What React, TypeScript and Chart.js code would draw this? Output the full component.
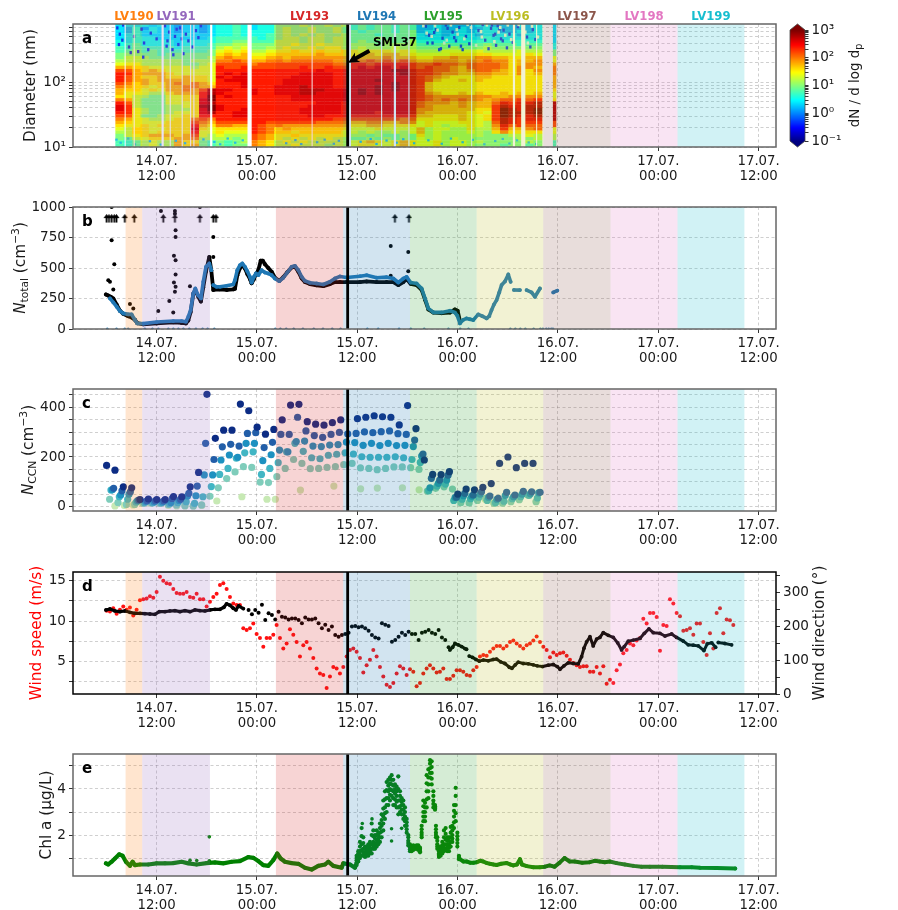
import React, { useEffect, useRef } from "react";
import { Chart, registerables } from "chart.js";

Chart.register(...registerables);
Chart.defaults.font.family = "'DejaVu Sans', sans-serif";

const W = 898;
const X_MIN = 2;
const X_MAX = 86.08;
const GRID = "rgba(128,128,128,0.38)";
const TXT = "#1a1a1a";

const xTickHours = [12, 24, 36, 48, 60, 72, 84];
const xTickDates = ["14.07.", "15.07.", "15.07.", "16.07.", "16.07.", "17.07.", "17.07."];
const xTickTimes = ["12:00", "00:00", "12:00", "00:00", "12:00", "00:00", "12:00"];

const bandNames = ["LV190", "LV191", "LV193", "LV194", "LV195", "LV196", "LV197", "LV198", "LV199"];
const bandStarts = [8.29, 10.28, 26.27, 34.32, 42.3, 50.28, 58.24, 66.3, 74.3];
const bandEnds = [10.28, 18.38, 34.32, 42.3, 50.28, 58.24, 66.3, 74.3, 82.3];
const bandColors = ["#ff7f0e", "#9467bd", "#d62728", "#1f77b4", "#2ca02c", "#bcbd22", "#8c564b", "#e377c2", "#17becf"];
const stationHour = 34.85;

// Panel a: size distribution. One row per 0.05 decade of diameter, top row 10^2.85 nm; one column per hour from heatStart.
// Each character is a base-36 colour level, 0 = 10^-1 ... k = 10^3.
const heatStart = 7.1;
const heatRowTopLog = 2.85;
const heatRowStep = 0.05;
const heatRows = [
  "77 7878 7677 67 8898 788 aaabaabab 9a9aa9a9 667666 67766 6767",
  "76 8687 7677 67 8898 788 abaabaaba 9a9aa9a9 667667 66776 6667",
  "76 8787 7677 67 8898 888 abaabaaba a9aaa9aa 677667 67776 6767",
  "77 8777 7787 77 8898 889 abababaab aaa9aaaa 767677 76777 7677",
  "77 8887 7777 78 9999 989 abbabbabb aaabaaaa 777778 77877 7777",
  "87 8888 8788 88 99aa 999 bbbabbabb abaabaab 888888 88888 8888",
  "88 9888 8788 89 aabb aaa bbcbbcbbb bbbabbbb 999a99 99a99 9899",
  "98 9999 9899 99 bcbc aab bcbbcbccb bcbbbcbb aaaaba aabaa aaaa",
  "99 a9a9 9999 9a cdcd bbc ccdccdccd dcdddcdc bbbccc ccbbb bcbb",
  "aa aaa9 aaaa aa dede ccd dddddeddd ddedeedd ccccdd dddcc ccdc",
  "ab bbaa aaaa ab efee dde edeeeeeee eeeefeee ddeefe effee ddee",
  "bb bbbb bbab bb ffgf eef fefffffee ffgfgfgf eefffe ffgff deef",
  "cc cbbb bbaa bc gggg fgg gggggggff hhghhhhh gghggf ggggf deff",
  "ee ddcc cccb cc hggh ggg ggghgghgg hihiihih ghggfe ggggf dffe",
  "gg eded cccc cc hhhh hhh hhhhhihhh iiiiijji hhggfe fggfe dfdf",
  "hh eeee dccc cc hihi hhh hhhiiiihh iiiiiiji hhgffe effee dfde",
  "hg edde dded dc ihii hhh hhiiiiihh iiiiiiii hgfedd deedd dddd",
  "hg eede eeed dc hiii hhh hiiiiiihh iiijiiii hgedde deddd dddd",
  "gf dedd efef ed hhhi hhh hiiiiiihh iiiiijii hedddd ddddd dddd",
  "fe ddcd eeff ee hhhi hhh iiijiiihh iiijijii hedddd ddddd dddd",
  "ed dcdc eefe gj iihh ihh iiijjjiii ijijijii hedddd ddddd dddd",
  "ec ccbb deee hj ihhh ihh iiijjiiii ijijiiii hfedde dedde dede",
  "dc bbaa ccdd hk hihh hhh hhiiiiiii iiiiiiii hgffff fffee ffff",
  "fe baaa ccdd ik hhhh hhh hhiiiiiii iiiiiiii hgfgfg ffefg ghgh",
  "hg baaa cccd ij hhhh hhh hhhhhiiih iiiiiiii gfffef eeegi hiij",
  "ih baaa bbcd jk ihhh hhh hhhhiiiih iiiiiiii gfeeef eeehj iijj",
  "ih cbaa bbbd ik ihhi hhh hhhiiiiih iiiiiiii ffeeee eddhk jijk",
  "hh cbaa bccd ij hhii hhh hhhiiiiih iiihiiii feeeee ddchk jjjk",
  "gg caab ccdd hh hhii hhh hhhhiihhh hhhhhhhh eeddde dcdhk jiij",
  "fe ccbb cddf gf hhhh hhh hhhhhhhgg ggggggfg ddddde dcdhj ihii",
  "ed cccc dddg fe gggg hhg gggggffff eeffeeff cdcccd dcbgj ihhh",
  "dc cdcd dddh ed ffee hgf feeeeeeee ddeedddd cdcbcc dcbfi ghgg",
  "cb ddcc dddi dc dddd hgf deddddddd cccdcccc ebccbb dbbeh eefg",
  "bb ddcd dddh cc dccc hgf ddcdddddc cbcbbcbc ebcbbb cbadf dddd",
  "ab cdee edeg cb cbbb gfe ccdcccccc bbabaaba dbcbbb bbaaa bbcb",
  "a9 bcdd deef bb bbab gfe cbcbcbcbb aabababa cbcbcb baaaa abab",
  "98 9bcb bedd a9 a9ab fed bcbcbbbbb cdedcded ccdbcc bbaaa aaba",
  "98 9bcb bede a9 a9aa fed bbcbbbabb cddccded ccdbcc baaa9 aa9a",
];
const stripHour = 59.6;
const stripLevels = "77777788aaccefffeeeedccdjjjjjjggccbb99";
const gapNarrowHours = [8.24, 9.32, 13.63, 15.06, 16.07, 16.46, 30.6, 38.91, 42.18, 49.68, 57.45];
const gapMidHours = [12.72, 18.53, 35.12, 40.5, 54.74];
const gapWideHours = [23.12, 55.85];
const speckleBlueHours = [7.3, 7.6, 7.9, 7.5, 8.0, 8.7, 9.3, 9.8, 10.2, 10.5, 11, 11.3, 12, 13, 13.3, 13.5, 13.9, 14.2, 14.6, 14.8, 15.2, 15.5, 15.8, 16.3, 16.7, 17, 17.3, 14, 14.4, 13.2, 15, 10.4, 8.9, 44.2, 44.6, 45, 45.4, 45.8, 46.2, 46.6, 47, 47.4, 47.8, 48.2, 48.6, 49, 49.4, 50.5, 51, 51.3, 51.7, 52, 52.3, 52.6, 52.8, 53.2, 53.5, 53.9, 54.2, 54.6, 55.2, 56.3, 56.7, 57, 57.3, 44.4, 45.2, 46, 46.8, 47.6, 48.4, 52.1, 52.5, 53, 53.4];
const speckleBlueNm = [650, 520, 420, 360, 720, 330, 480, 280, 620, 380, 300, 540, 440, 700, 410, 560, 300, 480, 360, 650, 260, 520, 410, 330, 590, 460, 700, 250, 620, 340, 440, 230, 270, 690, 500, 380, 610, 300, 450, 720, 340, 560, 410, 660, 300, 480, 370, 590, 730, 420, 310, 640, 500, 350, 700, 440, 600, 320, 520, 390, 680, 470, 330, 610, 430, 380, 550, 310, 640, 460, 340, 720, 520, 610, 410];
const speckleLowHours = [7.2, 7.7, 8.6, 9.4, 11.2, 12.5, 14.3, 15.4, 17.6, 18.9, 19.6, 20.5, 21.4, 22.3, 27.5, 28.6, 29.3, 31.2, 32.1, 33.2, 33.8, 36.4, 37.6, 38.3, 39.5, 40.7, 41.5, 42.8, 44.5, 46.1, 47.2, 48.6, 49.8, 51.2, 52.5, 53.4, 54.2, 55.1, 56.5, 57.4];
const speckleLowNm = [12.5, 11.2, 13, 10.6, 11.8, 10.5, 12, 11, 12.6, 11.5, 10.6, 13, 11.2, 12.2, 11, 12.3, 10.7, 11.4, 12.5, 10.8, 12, 11.6, 12.8, 10.7, 12.1, 11.2, 12.7, 11, 12.2, 10.8, 13, 11.4, 12.4, 10.6, 11.9, 12.8, 10.9, 12.2, 11.3, 10.7];
const specklePaleHours = [43.9, 44.9, 45.6, 46.4, 47.2, 48, 48.8, 49.6, 50.2, 50.8, 51.5, 52.4, 53.1, 53.7, 54.4, 55.3, 56.1, 56.9, 57.6, 44.3, 45.3, 46.7, 47.9, 49.2, 50.9, 52.9, 54, 56.4];
const specklePaleNm = [700, 480, 600, 380, 720, 520, 440, 660, 350, 570, 720, 400, 660, 500, 430, 730, 560, 690, 470, 540, 700, 420, 610, 730, 470, 560, 720, 380];

// Panel b
const cpcHours = [5.94, 6.2, 6.5, 6.82, 7.22, 7.61, 8.01, 8.61, 9.01, 9.41, 9.69, 10.41, 12, 13.99, 14.99, 15.51, 15.79, 16.07, 16.39, 16.63, 16.94, 17.3, 17.58, 17.9, 18.3, 18.54, 18.78, 19.5, 20.4, 21.17, 21.37, 21.65, 21.97, 22.25, 22.57, 22.85, 23.16, 23.36, 23.64, 23.88, 24.16, 24.45, 24.7, 24.96, 25.36, 25.76, 26.15, 26.67, 27.15, 27.63, 28.15, 28.55, 28.95, 29.35, 29.74, 30.34, 31.14, 31.94, 32.73, 33.33, 33.93, 34.73, 36.32, 37.12, 38.32, 39.51, 40.31, 40.91, 41.51, 41.9, 42.38, 43.1, 43.7, 44.1, 44.5, 45.1, 46.09, 47.09, 47.68, 48, 48.3];
const cpcValues = [283, 275, 265, 250, 200, 150, 125, 105, 95, 75, 48, 38, 46, 55, 50, 46, 70, 140, 290, 320, 270, 225, 340, 470, 590, 480, 320, 325, 320, 325, 330, 440, 500, 525, 495, 450, 410, 375, 410, 450, 480, 560, 560, 530, 500, 470, 420, 395, 425, 465, 505, 510, 470, 415, 385, 368, 358, 352, 368, 385, 385, 385, 385, 390, 385, 385, 385, 360, 385, 410, 370, 360, 320, 240, 160, 135, 130, 135, 160, 150, 60];
const cpcSpikeHours = [6.62, 6.94, 6.22, 6.42, 6.82, 8.81, 9.21, 12.52, 12.2, 13.52, 14.19, 14.19, 14.27, 14.27, 14.07, 14.27, 14.27, 14.07, 14.27, 14.19, 13.99, 15.99, 17.18, 6.62, 18.78, 18.78, 40, 42.1, 42.1, 40];
const cpcSpikeValues = [727, 530, 400, 387, 324, 204, 169, 967, 147, 229, 967, 945, 809, 755, 600, 564, 447, 381, 346, 305, 136, 351, 1000, 1000, 755, 591, 681, 632, 474, 436];
const cpcOffscaleHours = [6.02, 6.3, 6.62, 6.94, 7.2, 8.2, 9.33, 12.8, 14.19, 17.18, 18.78, 19.1, 40.5, 42.18];
const cpcOffscaleMark = 905;
const smpsHours = [6.42, 6.82, 7.22, 7.61, 8.01, 8.61, 9.01, 9.41, 9.69, 10.41, 12, 13.99, 14.99, 15.51, 15.79, 16.07, 16.39, 16.63, 16.94, 17.3, 17.58, 17.9, 18.3, 18.54, 18.66, 18.78, 19.18, 19.58, 20.37, 21.17, 21.37, 21.65, 21.97, 22.25, 22.57, 22.85, 23.16, 23.36, 23.64, 23.88, 24.16, 24.56, 24.96, 25.36, 25.76, 26.15, 26.67, 27.15, 27.63, 28.15, 28.55, 28.95, 29.35, 29.74, 30.34, 31.14, 31.94, 32.73, 33.33, 33.93, 34.73, 36.32, 37.12, 38.32, 39.51, 40.31, 40.91, 41.51, 41.9, 42.38, 43.1, 43.7, 44.1, 44.5, 45.1, 46.09, 47.09, 47.68, 47.96, 48.28, 48.67, 49.07, 49.47, 49.87, 50.47, 50.95, 51.47, 51.78, 52.06, 52.34, 52.66, 52.98, 53.26, 53.66, 54.06, 54.34, 54.5, 54.74, 55.45, 55.8, 56.25, 56.85, 57.25, 57.85, 58.5, 59.44, 59.92];
const smpsValues = [251, 218, 183, 147, 128, 120, 120, 74, 46, 44, 57, 65, 65, 60, 101, 155, 292, 332, 278, 251, 387, 510, 537, 482, null, 360, 346, 346, 354, 365, 401, 482, 523, 537, 510, 474, 428, 381, 428, 455, 441, 482, 463, 455, 441, 414, 392, 420, 463, 510, 518, 482, 428, 395, 379, 373, 365, 387, 414, 431, 422, 433, 441, 420, 425, 414, 381, 414, 428, 381, 373, 332, 251, 169, 136, 136, 150, 135, 110, 46, 75, 87, 80, 73, 120, 105, 87, 105, 155, 200, 237, 300, 360, 390, 447, 387, null, 320, 319, null, 319, 300, 264, 332, null, 300, 315];
const smpsZeroHours = [6.1, 7.2, 8.2, 8.6, 10.6, 11.5, 12.2, 13.4, 14, 14.6, 15.2, 15.9, 16.7, 17.5, 18.1, 18.9, 26.2, 26.8, 27.5, 28.4, 29.5, 30.8, 31.9, 33, 34, 37.2, 38.5, 41, 42.4, 44, 46.9, 48.3, 49.3, 54.3, 54.9, 55.5, 56.1, 57.1, 57.9, 58.2, 58.6, 58.9, 59.2, 59.4];

// Panel c: one reading per hour, each supersaturation a little earlier in the cycle than 1.0 %
const ccnStartHour = 6.02;
const ccnOffset05 = -0.16;
const ccnOffset03 = -0.32;
const ccnOffset02 = -0.48;
const ccnOffset015 = -0.64;
const ccn10 = [166, 147, 80, 76, 29, 31, 29, 29, 41, 40, 80, 138, 452, 275, 308, 308, 413, 386, 320, 292, 311, 349, 409, 412, 342, 332, 328, 338, 349, null, 354, 360, 366, 362, 360, 329, 407, 314, 188, 130, 129, 141, 51, 71, 68, 78, 93, 174, 200, 157, 174, 174];
const ccn05 = [null, 74, 64, 60, 27, 24, 24, 23, 33, 30, 54, 83, 255, 190, 241, 251, 244, 295, 298, 238, 259, 291, 291, 360, 305, 286, 279, 291, 299, 293, 295, 301, 298, 302, 305, 294, 291, 268, 212, 114, 107, 127, 38, 54, 47, 60, 43, 34, 58, 47, 62, 60, 58];
const ccn03 = [null, 68, 47, 50, 24, 21, 20, 19, 17, 25, 43, 44, 128, 128, 188, 208, 199, 255, 255, 185, 209, 228, 221, 262, 264, 244, 242, 248, 250, 260, 258, 247, 255, 246, 255, 246, 247, 242, 204, 76, 94, 107, 37, 44, 42, 50, 38, 30, 45, 40, 50, 52, 56];
const ccn02 = [null, 67, 40, 30, 18, 16, 15, 15, 12, 16, 20, 13, 40, 81, 130, 154, 195, 217, 221, 130, 154, 177, 221, 255, 223, 197, 193, 207, 211, 217, 212, 201, 199, 199, 199, 201, 197, 190, 178, 64, 83, 91, 25, 30, 32, 38, 25, 16, 22, 32, 40, 45, 35];
const ccn015 = [null, 30, 17, 9, 9, 13, 15, 13, 9, 7, 4, 3, 7, 42, 76, 113, 140, 161, 158, 99, 97, 121, 154, 190, 174, 153, 154, 158, 161, 169, 174, 156, 154, 149, 154, 160, 160, 157, 150, 63, 74, 80, 71, 16, 15, 25, 34, 13, 14, 20, 28, 47, 20];
const ccn01Hours = [7.02, 8.14, 9.21, 10.2, 11.2, 12.4, 13.4, 14.4, 15.4, 16.4, 17.4, 19.2, 22.2, 25.2, 26.2, 29.2, 33.2, 36.4, 38.4, 41.4, 43.4, 51.3, 52.3, 57.4];
const ccn01 = [3, 5, 7, 16, 14, 15, 5, 3, 3, 3, 5, 23, 40, 30, 30, 67, 83, 72, 75, 76, 68, 30, 16, 23];

// Panel d
const speedStartHour = 6.02;
const speedStepHours = 0.3987;
const windSpeed = [11.3, 11.2, 11.6, 10.9, 11.4, 11.8, 11.4, 11.7, 10.7, 11.4, 12.6, 12.7, 12.8, 13.1, 12.9, 13.6, 15.5, 15, 14.7, 14.6, 14, 13.5, 13.4, 13.4, 13.6, 13, 12.9, 13.4, 12.7, 12.7, 11.8, 12.4, 13, 13.4, 14.5, 14.7, 14, 13, 12.2, 12, 12, 9.1, 8.9, 9.1, 9.7, 8.4, 7.9, 6.8, 7.9, 7.9, 8.3, 9.5, 7.9, 6.6, 7.2, 9, 8.3, 7.4, 5.6, 7, 7.4, 6.6, 5.4, 4.1, 3.5, 3.3, 1.7, 3.1, 4.3, 4.1, 3.5, 4.3, 5.6, 6.4, 6.6, 6.2, 5.4, 3.6, 4.5, 5.2, 6.4, 5.6, 4.3, 3.1, 2.1, 1.8, 2.3, 3.5, 4.4, 4.1, 3.3, 4, 3.7, 1.9, 2.3, 3.5, 4.1, 4.5, 4.1, 3.6, 3.7, 4.1, 2.8,
  2.8, 3.2, 3.9, 3.9, 3.7, 3.3, 3.2, 3.9, 4.3, 5.6, 5.8, 5.7, 6.2, 6.6, 6.9, 6.9, 6.6, 6.9, 7.4, 7.6, 7.2, 6.9, 6.6, 7, 7.2, 7.6, 8.1, 7.4, 6.8, 6.4, 5.5, 6.1, 5.8, 6, 6.1, 5.7, 5.2, 4.8, 4.5, 4.3, 4.4, 4.4, 3.7, 3.7, 4.3, 3.5, 4.4, 2.2, 2.7, 2.3, 3.9, 4.6, 6, 6.4, 7.2, 7, 7.6, 7.9, 10.3, 9.7, 11, 11, 10.5, 6.3, 9.5, 9.4, 12.7, 12.2, 11, 10.6, 8.8, 8.9, 9.1, 8.3, 9.7, 9.7, 7.4, 5.8, 8.5, 6.6, 11, 11.6, 8.5, 10.2, 10.1, 9.5];
const dirEarlyHours = [5.94, 6.42, 7.02, 7.61, 8.21, 8.81, 9.41, 10.01, 10.6, 11.2, 11.8, 12.32, 13, 13.59, 14.19, 14.79, 15.39, 15.99, 16.58, 17.18, 17.78, 18.38, 18.98, 19.58, 20.05, 20.37, 20.77, 21.17, 21.49, 21.81, 22.37];
const dirEarly = [248, 251, 245, 243, 245, 241, 238, 238, 237, 236, 235, 243, 243, 245, 246, 243, 246, 243, 248, 246, 245, 248, 250, 250, 256, 266, 262, 253, 248, 260, 252];
const dirMidStartHour = 23;
const dirMidStepHours = 0.3987;
const dirMid = [248, 235, 248, 240, 263, 218, 238, 233, 220, 243, 228, 226, 220, 223, 223, 218, 209, 226, 220, 220, 223, 209, 194, 204, 189, 199, 174, 169, 174, 177, 181, 199, 201, 197, 199, 194, 187, 174, 167, 164, 209, 204, 201, 154, 159, 169, 181, 174, 184, 177, 177, 159, 181, 184, 189, 181, 177, 189, 167, 159, 138];
const dirLateHours = [47.08, 47.4, 47.68, 48.08, 48.48, 48.87, 49.07, 49.3, 49.39, 49.79, 50.19, 50.59, 51.07, 51.67, 52.26, 52.66, 53.14, 53.66, 54.18, 54.5, 54.9, 55.25, 55.85, 56.45, 57.05, 57.53, 58.16, 58.84, 59.44, 59.92, 60.24, 60.72, 61.23, 61.83, 62.43, 62.83, 63.11, 63.43, 63.83, 64.22, 64.62, 65.02, 65.42, 66.02, 66.62, 67.14, 67.61, 67.93, 68.41, 69.01, 69.81, 70.33, 70.88, 71.4, 72.2, 72.8, 73.6, 74.19, 75, 75.59, 76.19, 76.79, 77.46, 77.86, 78.38, 78.86, 79, 79.18, 79.97, 80.77];
const dirLate = [130, 138, 149, 145, 140, 134, 132, null, 112, 108, 102, 97, 100, 98, 102, 103, 95, 90, 79, 76, 86, 94, 90, 89, 86, 83, 81, 85, 87, 81, 73, 83, 92, 90, 89, 110, 135, 154, 169, 142, 162, 167, 181, 173, 167, 151, 130, 140, 156, 159, 164, 179, 192, 181, 179, 171, 177, 167, 156, 145, 144, 142, 128, 148, 151, 138, null, 152, 149, 145];

// Panel e
const chlEarlyHours = [5.94, 6.22, 6.62, 7.02, 7.53, 7.93, 8.33, 8.81, 9.13, 9.41, 10.01, 11, 12, 13, 13.99, 14.99, 15.79, 16.78, 17.98, 18.98, 19.97, 20.97, 21.97, 22.96, 23.56, 24.16, 24.76, 25.36, 25.96, 26.43, 26.83, 27.35, 28.15, 28.95, 29.74, 30.54, 31.34, 32.14, 32.53, 33.13, 34.13, 34.33, 35.13, 35.72, 36.12];
const chlEarly = [0.77, 0.72, 0.84, 0.98, 1.16, 1.1, 0.84, 0.66, 0.84, 0.69, 0.72, 0.72, 0.77, 0.77, 0.78, 0.84, 0.77, 0.72, 0.78, 0.81, 0.77, 0.84, 0.87, 1.04, 1.01, 0.87, 0.69, 0.66, 0.91, 1.2, 0.98, 0.84, 0.78, 0.75, 0.58, 0.5, 0.66, 0.72, 0.84, 0.66, 0.58, 0.77, 0.72, 0.58, 0.98];
const chlLateHours = [48.28, 48.7, 49.08, 49.5, 49.88, 50.3, 50.68, 51.07, 51.5, 51.87, 52.3, 52.67, 53.2, 53.87, 54.3, 54.66, 55.1, 55.46, 55.7, 56.26, 57.06, 57.85, 58.4, 59, 59.6, 60.2, 60.8, 61.4, 62, 62.9, 63.8, 64.4, 65, 65.6, 66.2, 67, 68, 69, 70, 71, 72.5, 74.6, 76, 77, 79, 81.2];
const chlLate = [0.95, 0.85, 0.85, 0.8, 0.8, 0.82, 0.88, 0.85, 0.78, 0.75, 0.72, 0.7, 0.75, 0.78, 0.72, 0.68, 0.72, 0.95, 0.72, 0.65, 0.6, 0.6, 0.62, 0.68, 0.62, 0.8, 1.0, 0.85, 0.85, 0.8, 0.82, 0.88, 0.85, 0.82, 0.85, 0.78, 0.72, 0.66, 0.62, 0.62, 0.62, 0.6, 0.6, 0.58, 0.57, 0.55];
const chlBloomHours = [35.92, 36.12, 36.32, 36.52, 36.72, 36.92, 37.12, 37.32, 37.52, 37.72, 37.92, 38.12, 38.32, 38.52, 38.71, 38.91, 39.11, 39.31, 39.51, 39.71, 39.91, 40.11, 40.31, 40.51, 40.71, 40.91, 41.11, 41.31, 41.51, 41.71, 41.91, 42.1, 42.3, 42.5, 42.7, 42.9, 43.1, 43.3, 43.5, 43.7, 43.9, 44.1, 44.3, 44.5, 44.7, 44.9, 45.1, 45.3, 45.41, 45.57, 45.77, 45.97, 46.17, 46.37, 46.57, 46.77, 46.97, 47.17, 47.37, 47.57, 47.77, 47.97, 48.16];
const chlBloomHigh = [1.1, 1.3, 1.7, 2.3, 1.9, 1.5, 1.5, 1.6, 1.7, 2.5, 2.2, 2, 2.2, 2.1, 2.5, 2.9, 3.5, 3.9, 4.3, 4.4, 4.5, 4.6, 4.4, 4.2, 4.1, 4.55, 3.9, 3.6, 3.5, 3.2, 2.7, 2, 1.6, 1.5, 1.55, 1.5, 1.55, 1.55, 1.45, 2.4, 3.5, 3.4, 4.6, 4.85, 5.25, 5.2, 3.9, 3.3, 2.4, 1.9, 1.3, 1.5, 1.7, 2.2, 2.3, 1.9, 1.9, 2.35, 2.4, 3.3, 4.05, 2.1, 1.1];
const chlBloomUpper = [1, 1.2, 1.5, 1.95, 1.65, 1.4, 1.4, 1.5, 1.6, 2, 1.95, 1.85, 2, 2, 2.3, 2.65, 3.15, 3.55, 3.95, 4.15, 4.25, 4.4, 4.15, 4, 3.9, 4, 3.7, 3.45, 3.3, 3, 2.55, 1.9, 1.5, 1.45, 1.5, 1.48, 1.5, 1.5, 1.4, 2.25, 3.25, 3.2, 4.25, 4.5, 5.1, 4.95, 3.7, 3.25, 2.25, 1.75, 1.2, 1.4, 1.55, 1.9, 2.05, 1.75, 1.75, 2.1, 2.2, 3.05, 3.7, 1.95, 1.05];
const chlBloomMid = [0.9, 1.05, 1.3, 1.6, 1.4, 1.25, 1.3, 1.35, 1.45, 1.6, 1.7, 1.65, 1.8, 1.85, 2.1, 2.4, 2.8, 3.2, 3.6, 3.9, 4, 4.2, 3.9, 3.8, 3.7, 3.5, 3.5, 3.3, 3.1, 2.8, 2.4, 1.75, 1.45, 1.4, 1.45, 1.45, 1.48, 1.45, 1.35, 2.1, 3, 3, 3.9, 4.2, 4.9, 4.7, 3.5, 3.2, 2.1, 1.6, 1.15, 1.3, 1.4, 1.6, 1.8, 1.6, 1.6, 1.9, 2, 2.8, 3.3, 1.8, 1];
const chlBloomLower = [0.8, 0.95, 1.15, 1.35, 1.25, 1.15, 1.2, 1.22, 1.3, 1.4, 1.55, 1.52, 1.65, 1.72, 1.9, 2.15, 2.5, 2.95, 3.3, 3.6, 3.75, 3.95, 3.6, 3.55, 3.45, 3.2, 3.25, 3.1, 2.9, 2.6, 2.25, 1.65, 1.38, 1.35, 1.4, 1.42, 1.44, 1.4, 1.3, 2, 2.8, 2.8, 3.55, 3.9, 4.7, 4.45, 3.35, 3.15, 2, 1.5, 1.1, 1.2, 1.3, 1.45, 1.6, 1.45, 1.45, 1.7, 1.85, 2.55, 2.95, 1.65, 0.98];
const chlBloomLow = [0.7, 0.85, 1, 1.1, 1.1, 1.05, 1.1, 1.1, 1.2, 1.2, 1.4, 1.4, 1.5, 1.6, 1.7, 1.9, 2.2, 2.7, 3, 3.3, 3.5, 3.7, 3.3, 3.3, 3.2, 2.9, 3, 2.9, 2.7, 2.4, 2.1, 1.55, 1.3, 1.3, 1.35, 1.4, 1.4, 1.35, 1.25, 1.9, 2.6, 2.6, 3.2, 3.6, 4.5, 4.2, 3.2, 3.1, 1.9, 1.4, 1.05, 1.1, 1.2, 1.3, 1.4, 1.3, 1.3, 1.5, 1.7, 2.3, 2.6, 1.5, 0.95];
const chlStrayHours = [16, 16.8, 18.3, 18.3, 37.76, 40.1, 40.1, 40.9, 41.3, 36.6];
const chlStray = [0.9, 0.89, 1.92, 0.88, 2.7, 2.27, 1.74, 4.53, 2.29, 2.5];

const ccnLegendLabels = ["0.1 %", "0.15 %", "0.2 %", "0.3 %", "0.5 %", "1.0 %"];
const ccnColors = ["#c7e9b4", "#7fcdbb", "#41b6c4", "#1d91c0", "#225ea8", "#0c2c84"];

const jet = (v: number) => {
  const c = (x: number) => Math.round(255 * Math.min(1, Math.max(0, x)));
  return `rgb(${c(1.5 - Math.abs(4 * v - 3))},${c(1.5 - Math.abs(4 * v - 2))},${c(1.5 - Math.abs(4 * v - 1))})`;
};
const pts = (xs: number[], ys: (number | null)[]) => xs.map((x, i) => ({ x, y: ys[i] }));
const series = (start: number, step: number, ys: (number | null)[]) => ys.map((y, i) => ({ x: start + step * i, y }));

const dots = (data: any[], color: string, r: number, extra: any = {}) => ({
  type: "scatter", data, backgroundColor: color, borderColor: color, pointRadius: r, pointBorderWidth: 0, showLine: false, ...extra,
});
const trace = (data: any[], color: string, r: number, w: number, extra: any = {}) =>
  dots(data, color, r, { showLine: true, borderWidth: w, tension: 0, spanGaps: false, borderCapStyle: "round", borderJoinStyle: "round", ...extra });
const cells = (data: any[], color: any, thickness: number) => ({
  type: "bar", data, backgroundColor: color, barThickness: thickness, grouped: false, borderWidth: 0, inflateAmount: 0,
});

const heatDatasets = () => {
  const out: any[] = [];
  heatRows.forEach((row, r) => {
    const chars = row.replace(/ /g, "").split("");
    const lo = heatRowTopLog - heatRowStep * r;
    const yr = [10 ** lo, 10 ** (lo + heatRowStep + 0.004)];
    out.push(cells(chars.map((_, i) => ({ x: heatStart + i + 0.5, y: yr })), chars.map((ch) => jet(parseInt(ch, 36) / 20)), 8.9));
    out.push(cells([{ x: stripHour, y: yr }], jet(parseInt(stripLevels[r], 36) / 20), 3.4));
  });
  out.push(cells(speckleBlueHours.map((x, i) => ({ x, y: [speckleBlueNm[i], speckleBlueNm[i] * 1.12] })), "#1238e8", 2.4));
  out.push(cells(specklePaleHours.map((x, i) => ({ x, y: [specklePaleNm[i], specklePaleNm[i] * 1.12] })), "#dff0df", 2.6));
  out.push(cells(speckleLowHours.map((x, i) => ({ x, y: [speckleLowNm[i], speckleLowNm[i] * 1.08] })), "#22c0e8", 2.4));
  out.push(cells(gapNarrowHours.map((x) => ({ x, y: [10, 800] })), "#ffffff", 1.1));
  out.push(cells(gapMidHours.map((x) => ({ x, y: [10, 800] })), "#ffffff", 2.2));
  out.push(cells(gapWideHours.map((x) => ({ x, y: [10, 800] })), "#ffffff", 4.2));
  return out;
};

const arrowMarker = () => {
  const c = document.createElement("canvas");
  c.width = 7;
  c.height = 9;
  const g = c.getContext("2d")!;
  g.fillStyle = "#000";
  g.beginPath();
  g.moveTo(3.5, 0);
  g.lineTo(6.6, 4);
  g.lineTo(4.4, 4);
  g.lineTo(4.4, 8.6);
  g.lineTo(2.6, 8.6);
  g.lineTo(2.6, 4);
  g.lineTo(0.4, 4);
  g.closePath();
  g.fill();
  return c;
};

type Part = { t: string; size: number; italic?: boolean; shift?: number };
const drawRotated = (ctx: CanvasRenderingContext2D, cx: number, cy: number, parts: Part[], color: string) => {
  const fontOf = (p: Part) => `${p.italic ? "italic " : ""}${p.size}px 'DejaVu Sans'`;
  let total = 0;
  parts.forEach((p) => { ctx.font = fontOf(p); total += ctx.measureText(p.t).width; });
  ctx.save();
  ctx.translate(cx, cy);
  ctx.rotate(-Math.PI / 2);
  ctx.textBaseline = "alphabetic";
  ctx.textAlign = "left";
  ctx.fillStyle = color;
  let x = -total / 2;
  parts.forEach((p) => {
    ctx.font = fontOf(p);
    ctx.fillText(p.t, x, 5 + (p.shift || 0));
    x += ctx.measureText(p.t).width;
  });
  ctx.restore();
};

const overlay = (spec: any) => ({
  id: "overlay",
  afterDatasetsDraw(chart: any) {
    const { ctx, chartArea: a, scales } = chart;
    const xs = scales.x;
    ctx.save();
    ctx.beginPath();
    ctx.rect(a.left, a.top, a.right - a.left, a.bottom - a.top);
    ctx.clip();
    ctx.globalAlpha = 0.2;
    bandNames.forEach((_, i) => {
      const l = xs.getPixelForValue(bandStarts[i]);
      const r = xs.getPixelForValue(bandEnds[i]);
      ctx.fillStyle = bandColors[i];
      ctx.fillRect(l, a.top, r - l, a.bottom - a.top);
    });
    ctx.globalAlpha = 1;
    const sx = xs.getPixelForValue(stationHour);
    ctx.fillStyle = "#000";
    ctx.fillRect(sx - 1.4, a.top, 2.8, a.bottom - a.top);
    ctx.restore();
    ctx.save();
    ctx.strokeStyle = spec.frame || "#666666";
    ctx.lineWidth = 1.5;
    ctx.strokeRect(a.left, a.top, a.right - a.left, a.bottom - a.top);
    ctx.fillStyle = "#000";
    ctx.font = "bold 15px 'DejaVu Sans'";
    ctx.textBaseline = "middle";
    ctx.textAlign = "left";
    ctx.fillText(spec.letter, 82, a.top + 15);
    ctx.restore();
    if (spec.rich) drawRotated(ctx, spec.rich.x, (a.top + a.bottom) / 2, spec.rich.parts, TXT);
    if (spec.extra) spec.extra(chart);
  },
});

const runLegend = (ctx: CanvasRenderingContext2D, items: any[]) => {
  ctx.save();
  ctx.textBaseline = "middle";
  ctx.textAlign = "left";
  items.forEach((it) => {
    ctx.fillStyle = it.color;
    ctx.beginPath();
    ctx.arc(802, it.y, it.r, 0, Math.PI * 2);
    ctx.fill();
    ctx.fillStyle = TXT;
    ctx.font = "13.4px 'DejaVu Sans'";
    it.lines.forEach((t: string, i: number) => ctx.fillText(t, 827, it.y + (it.lines.length > 1 ? (i === 0 ? -10 : 5.5) : 0)));
  });
  ctx.restore();
};

const xScale = (height: number) => ({
  type: "linear", min: X_MIN, max: X_MAX, offset: false,
  afterBuildTicks(s: any) { s.ticks = xTickHours.map((value) => ({ value })); },
  afterFit(s: any) { s.height = height; },
  grid: { offset: false, color: GRID, tickColor: "#333", tickLength: 4 },
  border: { display: false, dash: [3, 2.5] },
  ticks: {
    autoSkip: false, maxRotation: 0, minRotation: 0, padding: 3, color: TXT,
    font: { size: 13.3, lineHeight: 1.13 },
    callback: (v: number) => { const i = xTickHours.indexOf(v); return [xTickDates[i], xTickTimes[i]]; },
  },
});
const yScale = (o: any) => ({
  type: o.type || "linear", min: o.min, max: o.max, position: o.position || "left",
  afterBuildTicks(s: any) { s.ticks = [...o.major, ...(o.minor || [])].sort((a, b) => a - b).map((value: number) => ({ value })); },
  afterFit(s: any) { s.width = o.width || 73; },
  grid: o.noGrid ? { drawOnChartArea: false, tickColor: "#333", tickLength: 4 } : { color: GRID, tickColor: "#333", tickLength: 4 },
  border: { display: false, dash: [3, 2.5] },
  title: o.title ? { display: true, text: o.title, color: o.titleColor || TXT, font: { size: 15.3 }, padding: { top: o.titlePad, bottom: 0 } } : { display: false },
  ticks: {
    autoSkip: false, padding: 3, color: TXT, font: { size: 13.6 },
    callback: (v: number) => (o.major.includes(v) ? (o.format ? o.format(v) : String(v)) : ""),
  },
});

const supLabel: Record<number, string> = { 10: "10¹", 100: "10²" };
const logMinor = [20, 30, 40, 50, 60, 70, 80, 90, 200, 300, 400, 500, 600, 700];

const panels: any[] = [
  {
    letter: "a", top: 0, height: 181, plotTop: 24, plotBottom: 147, right: 122,
    datasets: heatDatasets,
    y: yScale({ type: "logarithmic", min: 10, max: 790, major: [10, 100], minor: logMinor, format: (v: number) => supLabel[v], title: "Diameter (nm)", titlePad: 21.7 }),
    extra(chart: any) {
      const { ctx, scales: { x, y } } = chart;
      ctx.save();
      ctx.textBaseline = "middle";
      ctx.textAlign = "center";
      ctx.font = "bold 11.7px 'DejaVu Sans'";
      bandNames.forEach((n, i) => {
        ctx.fillStyle = bandColors[i];
        ctx.fillText(n, x.getPixelForValue((bandStarts[i] + bandEnds[i]) / 2), 17);
      });
      const tipX = x.getPixelForValue(34.9), tipY = y.getPixelForValue(200);
      const tailX = x.getPixelForValue(37.45), tailY = y.getPixelForValue(305);
      const ang = Math.atan2(tipY - tailY, tipX - tailX);
      const len = Math.hypot(tipX - tailX, tipY - tailY);
      ctx.translate(tipX, tipY);
      ctx.rotate(ang);
      ctx.fillStyle = "#000";
      ctx.beginPath();
      ctx.moveTo(0, 0);
      ctx.lineTo(-11, -5.5);
      ctx.lineTo(-9, -2);
      ctx.lineTo(-len, -2);
      ctx.lineTo(-len, 2);
      ctx.lineTo(-9, 2);
      ctx.lineTo(-11, 5.5);
      ctx.closePath();
      ctx.fill();
      ctx.setTransform(1, 0, 0, 1, 0, 0);
      ctx.textAlign = "left";
      ctx.fillStyle = "#000";
      ctx.fillText("SML37", x.getPixelForValue(37.87), y.getPixelForValue(400));
      ctx.restore();
    },
  },
  {
    letter: "b", top: 195, height: 168, plotTop: 207, plotBottom: 329, right: 122,
    datasets: () => [
      trace(pts(cpcHours, cpcValues), "#000000", 2, 3.8),
      dots(pts(cpcSpikeHours, cpcSpikeValues), "#000000", 2),
      dots(cpcOffscaleHours.map((x) => ({ x, y: cpcOffscaleMark })), "#000000", 3, { pointStyle: arrowMarker() }),
      trace(pts(smpsHours, smpsValues), "#1f77b4", 1.9, 3.6),
      dots(smpsZeroHours.map((x) => ({ x, y: 0 })), "#1f77b4", 1.5),
    ],
    y: yScale({ min: 0, max: 1000, major: [0, 250, 500, 750, 1000] }),
    rich: { x: 20, parts: [{ t: "N", size: 15.3, italic: true }, { t: "total", size: 10.7, shift: 3 }, { t: " (cm", size: 15.3 }, { t: "−3", size: 10.7, shift: -6 }, { t: ")", size: 15.3 }] },
    extra(chart: any) {
      runLegend(chart.ctx, [
        { y: 250, r: 2, color: "#000", lines: ["CPC"] },
        { y: 279.5, r: 1.6, color: "#1f77b4", lines: ["SMPS", "integrated"] },
      ]);
    },
  },
  {
    letter: "c", top: 376, height: 170, plotTop: 389, plotBottom: 511, right: 122,
    datasets: () => [
      dots(pts(ccn01Hours, ccn01), ccnColors[0], 3.6),
      dots(series(ccnStartHour + ccnOffset015, 1, ccn015), ccnColors[1], 3.6),
      dots(series(ccnStartHour + ccnOffset02, 1, ccn02), ccnColors[2], 3.6),
      dots(series(ccnStartHour + ccnOffset03, 1, ccn03), ccnColors[3], 3.6),
      dots(series(ccnStartHour + ccnOffset05, 1, ccn05), ccnColors[4], 3.6),
      dots(series(ccnStartHour, 1, ccn10), ccnColors[5], 3.6),
    ],
    y: yScale({ min: -17.3, max: 473.6, major: [0, 200, 400], minor: [50, 100, 150, 250, 300, 350, 450] }),
    rich: { x: 28, parts: [{ t: "N", size: 15.3, italic: true }, { t: "CCN", size: 10.7, shift: 3 }, { t: " (cm", size: 15.3 }, { t: "−3", size: 10.7, shift: -6 }, { t: ")", size: 15.3 }] },
    extra(chart: any) {
      runLegend(chart.ctx, ccnLegendLabels.map((t, i) => ({ y: 399.3 + i * 20, r: 3.6, color: ccnColors[i], lines: [t] })));
    },
  },
  {
    letter: "d", top: 560, height: 170, plotTop: 572, plotBottom: 694, right: 0, frame: "#000000",
    datasets: () => [
      dots(series(speedStartHour, speedStepHours, windSpeed), "#ff1111", 2),
      trace(pts(dirEarlyHours, dirEarly), "#000000", 1.9, 3.2, { yAxisID: "y1" }),
      dots(series(dirMidStartHour, dirMidStepHours, dirMid), "#000000", 2, { yAxisID: "y1" }),
      trace(pts(dirLateHours, dirLate), "#000000", 1.9, 3, { yAxisID: "y1" }),
    ],
    y: yScale({ min: 0.94, max: 16.1, major: [5, 10, 15], minor: [2.5, 7.5, 12.5], title: "Wind speed (m/s)", titleColor: "#ff0000", titlePad: 27.7 }),
    y1: yScale({ min: 0, max: 360, position: "right", major: [0, 100, 200, 300], minor: [50, 150, 250, 350], width: 122, noGrid: true }),
    extra(chart: any) {
      const a = chart.chartArea;
      drawRotated(chart.ctx, 819, (a.top + a.bottom) / 2, [{ t: "Wind direction (°)", size: 15.3 }], TXT);
    },
  },
  {
    letter: "e", top: 742, height: 168, plotTop: 754, plotBottom: 876, right: 122,
    datasets: () => [
      trace(pts(chlEarlyHours, chlEarly), "#008000", 2, 4.2),
      dots(pts(chlStrayHours, chlStray), "#008000", 1.8),
      dots(pts(chlBloomHours, chlBloomLow), "#008000", 2.1),
      dots(pts(chlBloomHours, chlBloomLower), "#008000", 2.1),
      dots(pts(chlBloomHours, chlBloomMid), "#008000", 2.1),
      dots(pts(chlBloomHours, chlBloomUpper), "#008000", 2.1),
      dots(pts(chlBloomHours, chlBloomHigh), "#008000", 2.1),
      trace(pts(chlLateHours, chlLate), "#008000", 2, 4),
    ],
    y: yScale({ min: 0.22, max: 5.52, major: [2, 4], minor: [1, 3, 5], title: "Chl a (µg/L)", titlePad: 37.4 }),
  },
];

const buildPanel = (canvas: HTMLCanvasElement, p: any) => {
  const paddingTop = p.plotTop - p.top;
  const xHeight = p.height - (p.plotBottom - p.top);
  const scales: any = { x: xScale(xHeight), y: p.y };
  if (p.y1) scales.y1 = p.y1;
  return new Chart(canvas, {
    type: "scatter",
    data: { datasets: p.datasets().map((d: any, i: number) => ({ ...d, order: -i })) },
    options: {
      responsive: false,
      animation: false,
      layout: { autoPadding: false, padding: { top: paddingTop, left: 0, right: p.right, bottom: 0 } },
      plugins: { legend: { display: false }, tooltip: { enabled: false } },
      scales,
    } as any,
    plugins: [overlay(p)],
  } as any);
};

const colorbarExponents = [-1, 0, 1, 2, 3];
const colorbarLabels = ["10⁻¹", "10⁰", "10¹", "10²", "10³"];
const buildColorbar = (canvas: HTMLCanvasElement) => {
  const levels: any[] = [];
  for (let e = -1; e < 3.001; e += 0.04) levels.push({ y: e, x: [0, 1] });
  const minor: number[] = [];
  [-1, 0, 1, 2].forEach((e) => [2, 3, 4, 5, 6, 7, 8, 9].forEach((m) => minor.push(e + Math.log10(m))));
  return new Chart(canvas, {
    type: "bar",
    data: { datasets: [{ data: levels, backgroundColor: levels.map((l) => jet((l.y + 1) / 4)), barThickness: 2, borderWidth: 0, grouped: false }] },
    options: {
      indexAxis: "y",
      responsive: false,
      animation: false,
      layout: { autoPadding: false, padding: { top: 30, bottom: 40, left: 10, right: 0 } },
      plugins: { legend: { display: false }, tooltip: { enabled: false } },
      scales: {
        x: { type: "linear", min: 0, max: 1, display: false, offset: false },
        y: {
          type: "linear", min: -1, max: 3, position: "right", offset: false,
          afterBuildTicks(s: any) { s.ticks = [...colorbarExponents, ...minor].sort((a, b) => a - b).map((value) => ({ value })); },
          afterFit(s: any) { s.width = 93; },
          grid: { drawOnChartArea: false, tickColor: "#333", tickLength: 3.5, offset: false },
          border: { display: false },
          ticks: {
            autoSkip: false, padding: 3, color: TXT, font: { size: 13.6 },
            callback: (v: number) => { const i = colorbarExponents.indexOf(v); return i >= 0 ? colorbarLabels[i] : ""; },
          },
        },
      },
    } as any,
    plugins: [{
      id: "colorbarFrame",
      afterDatasetsDraw(chart: any) {
        const { ctx, chartArea: a } = chart;
        const mid = (a.left + a.right) / 2;
        ctx.save();
        ctx.fillStyle = jet(1);
        ctx.beginPath(); ctx.moveTo(a.left, a.top); ctx.lineTo(mid, a.top - 6); ctx.lineTo(a.right, a.top); ctx.closePath(); ctx.fill();
        ctx.fillStyle = jet(0);
        ctx.beginPath(); ctx.moveTo(a.left, a.bottom); ctx.lineTo(mid, a.bottom + 6); ctx.lineTo(a.right, a.bottom); ctx.closePath(); ctx.fill();
        ctx.strokeStyle = "#444";
        ctx.lineWidth = 0.8;
        ctx.beginPath();
        ctx.moveTo(a.left, a.top); ctx.lineTo(mid, a.top - 6); ctx.lineTo(a.right, a.top); ctx.lineTo(a.right, a.bottom);
        ctx.lineTo(mid, a.bottom + 6); ctx.lineTo(a.left, a.bottom); ctx.closePath();
        ctx.stroke();
        ctx.restore();
        drawRotated(ctx, 74, 85.5, [{ t: "dN / d log d", size: 13.4 }, { t: "p", size: 9.6, shift: 3 }], TXT);
      },
    }],
  } as any);
};

function PanelCanvas({ spec }: { spec: any }) {
  const ref = useRef<HTMLCanvasElement>(null);
  useEffect(() => {
    const chart = buildPanel(ref.current!, spec);
    return () => chart.destroy();
  }, [spec]);
  return <canvas ref={ref} width={W} height={spec.height} style={{ position: "absolute", left: 0, top: spec.top, width: W, height: spec.height }} />;
}

function ColorbarCanvas() {
  const ref = useRef<HTMLCanvasElement>(null);
  useEffect(() => {
    const chart = buildColorbar(ref.current!);
    return () => chart.destroy();
  }, []);
  return <canvas ref={ref} width={118} height={181} style={{ position: "absolute", left: 780, top: 0, width: 118, height: 181 }} />;
}

export default function App() {
  return (
    <div style={{ position: "absolute", left: 0, top: 0, width: W, height: 910, overflow: "hidden", background: "#fff" }}>
      {panels.map((p) => <PanelCanvas key={p.letter} spec={p} />)}
      <ColorbarCanvas />
    </div>
  );
}
